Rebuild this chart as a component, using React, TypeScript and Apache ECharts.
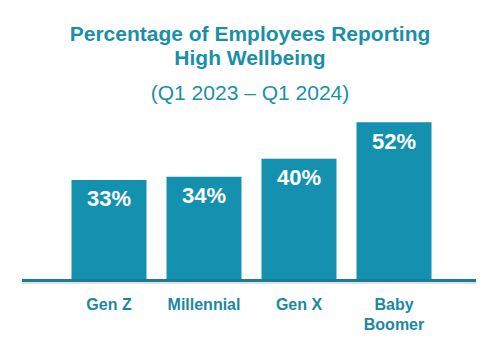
import React, { useEffect, useRef } from "react";
import * as echarts from "echarts";

const categories = ["Gen Z", "Millennial", "Gen X", "Baby\nBoomer"];
const values = [33, 34, 40, 52];
const titleText = "Percentage of Employees Reporting\nHigh Wellbeing";
const subtitleText = "(Q1 2023 \u2013 Q1 2024)";

export default function App() {
  const ref = useRef<HTMLDivElement>(null);
  useEffect(() => {
    if (!ref.current) return;
    const chart = echarts.init(ref.current, null, { renderer: "svg" });
    const font = "'Liberation Sans', Arial, sans-serif";
    chart.setOption({
      animation: false,
      backgroundColor: "#ffffff",
      title: [
        {
          text: titleText,
          left: "center",
          top: 21,
          padding: 0,
          textStyle: {
            color: "#1a8faa",
            fontFamily: font,
            fontSize: 21,
            fontWeight: "bold",
            lineHeight: 24,
          },
        },
        {
          text: subtitleText,
          left: "center",
          top: 81,
          padding: 0,
          textStyle: {
            color: "#1a8faa",
            fontFamily: font,
            fontSize: 21,
            fontWeight: "normal",
            lineHeight: 22,
          },
        },
      ],
      grid: { left: 61.5, width: 380, top: 98, height: 182 },
      xAxis: {
        type: "category",
        data: categories,
        axisLine: { show: false },
        axisTick: { show: false },
        axisLabel: {
          color: "#1a88a3",
          fontFamily: font,
          fontSize: 16,
          fontWeight: "bold",
          lineHeight: 20,
          margin: 14,
        },
      },
      yAxis: {
        type: "value",
        min: 0,
        max: 60,
        show: false,
        splitLine: { show: false },
      },
      series: [
        {
          type: "bar",
          data: values,
          barWidth: 75,
          itemStyle: { color: "#1391ae" },
          label: {
            show: true,
            position: "insideTop",
            distance: 8,
            formatter: "{c}%",
            color: "#ffffff",
            fontFamily: font,
            fontSize: 22,
            fontWeight: "bold",
          },
        },
      ],
      graphic: {
        elements: [
          {
            type: "rect",
            left: 22,
            top: 282,
            shape: { width: 454, height: 2 },
            style: { fill: "rgba(120,140,150,0.25)" },
            z: 99,
          },
          {
            type: "rect",
            left: 22,
            top: 279,
            shape: { width: 454, height: 3 },
            style: { fill: "#1c7b92" },
            z: 100,
          },
        ],
      },
    });
    return () => chart.dispose();
  }, []);
  return (
    <div
      ref={ref}
      style={{ position: "fixed", left: 0, top: 0, width: 500, height: 351 }}
    />
  );
}
